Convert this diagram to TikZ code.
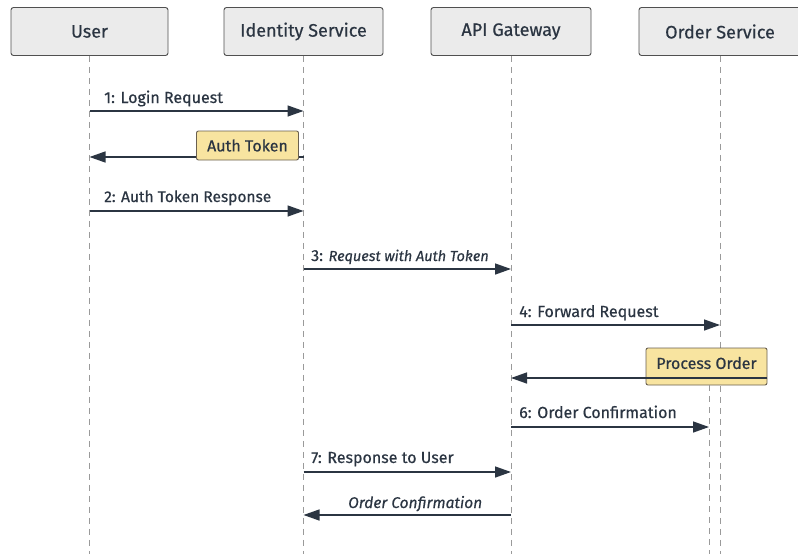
\documentclass[tikz,border=0pt]{standalone}
\usepackage{fontspec}
\setmainfont{Fira Sans}[FakeBold=0.5]
\usetikzlibrary{arrows.meta}
\definecolor{ink}{HTML}{2B3542}
\definecolor{boxfill}{HTML}{EBEBEB}
\definecolor{boxline}{HTML}{505050}
\definecolor{notefill}{HTML}{F8E4A0}
\definecolor{noteline}{HTML}{6A6050}
\definecolor{lifecol}{HTML}{9A9A9A}
\tikzset{
  actor/.style={draw=boxline, fill=boxfill, rounded corners=2.5pt, line width=0.9pt,
    minimum height=48pt, text=ink, font=\fontsize{18}{20}\selectfont, inner sep=0pt},
  life/.style={draw=lifecol, dashed, dash pattern=on 6pt off 5pt, line width=1pt},
  msg/.style={draw=ink, line width=1.4pt, -{Triangle[length=16pt,width=11pt]}},
  lbl/.style={text=ink, font=\fontsize{16}{18}\selectfont, inner sep=0pt, anchor=base west},
  note/.style={draw=noteline, fill=notefill, rounded corners=2pt, line width=0.9pt,
    text=ink, font=\fontsize{16}{18}\selectfont, inner sep=0pt},
}
\begin{document}
\begin{tikzpicture}[x=1pt,y=-1pt]
\useasboundingbox (0,0) rectangle (798,554);
\fill[white] (0,0) rectangle (798,554);
% actors
\node[actor, minimum width=157pt] (user) at (89.5,31.5) {User};
\node[actor, minimum width=159pt] (ids) at (303.5,31.5) {Identity Service};
\node[actor, minimum width=160pt] (api) at (511,31.5) {API Gateway};
\node[actor, minimum width=162pt] (ord) at (720,31.5) {Order Service};
% lifelines
\coordinate (userB) at (89,554);
\coordinate (idsB) at (303,554);
\coordinate (apiB) at (511,554);
\coordinate (ordB) at (720,554);
\draw[life] (user.south) -- (user.south |- userB);
\draw[life] (ids.south) -- (ids.south |- idsB);
\draw[life] (api.south) -- (api.south |- apiB);
\draw[life] (ord.south) -- (ord.south |- ordB);
% message y-levels
\coordinate (m1) at (0,111);
\coordinate (m2) at (0,157);
\coordinate (m3) at (0,211);
\coordinate (m4) at (0,269);
\coordinate (m5) at (0,325);
\coordinate (m6) at (0,378);
\coordinate (m7) at (0,427);
\coordinate (m8) at (0,472);
\coordinate (m9) at (0,515);
% 1
\draw[msg] (user.south |- m1) -- (ids.south |- m1);
\node[lbl] (l1) at (104,103) {1: Login Request};
% Auth token
\draw[msg] (ids.south |- m2) -- (user.south |- m2);
\node[note, minimum width=102pt, minimum height=29pt] (auth) at (247.5,145.5) {Auth Token};
% 2
\draw[msg] (user.south |- m3) -- (ids.south |- m3);
\node[lbl, font=\fontsize{15.5}{18}\selectfont] (l2) at (104,202) {2: Auth Token Response};
% 3
\draw[msg] (ids.south |- m4) -- (api.south |- m4);
\node[lbl] (l3) at (311,261) {3: {\fontsize{14.5}{18}\selectfont\itshape Request with Auth Token}};
% 4
\draw[msg] (api.south |- m5) -- (ord.south |- m5);
\node[lbl] (l4) at (519,317) {4: Forward Request};
% Process order
\node[note, minimum width=121pt, minimum height=37pt] (proc) at (706.5,366.5) {};
\node[text=ink, font=\fontsize{16}{18}\selectfont, inner sep=0pt] (proct) at (706.5,363) {Process Order};
\draw[msg] (proc.east |- m6) -- (api.south |- m6);
% activation lifeline
\coordinate (actB) at (709,554);
\draw[life] (proc.south -| actB) -- (actB);
% 6
\draw[msg] (api.south |- m7) -- (actB |- m7);
\node[lbl] (l6) at (519,418) {6: Order Confirmation};
% 7
\draw[msg] (ids.south |- m8) -- (api.south |- m8);
\node[lbl] (l7) at (311,463) {7: Response to User};
% reply
\draw[msg] (api.south |- m9) -- (ids.south |- m9);
\node[lbl, font=\fontsize{15.5}{18}\selectfont\itshape] (l9) at (348,508) {Order Confirmation};
\end{tikzpicture}
\end{document}
